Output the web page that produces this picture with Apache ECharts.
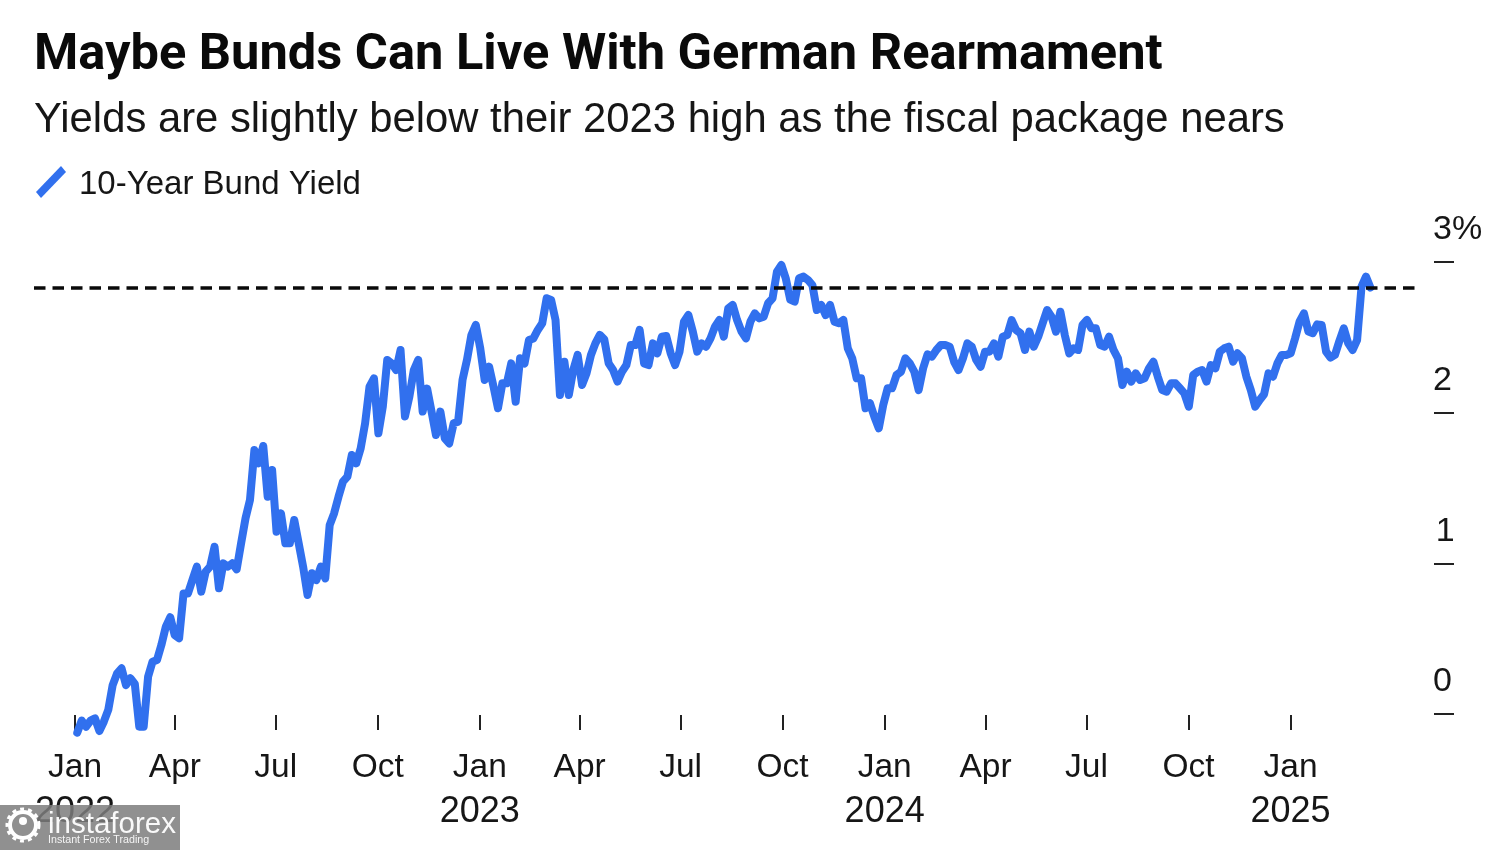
<!DOCTYPE html>
<html>
<head>
<meta charset="utf-8">
<style>html,body{margin:0;padding:0;background:#fff}#c{width:1500px;height:850px}</style>
<script src="https://cdn.jsdelivr.net/npm/echarts@6/dist/echarts.min.js"></script>
</head>
<body>
<div id="c"></div>
<script>
const titleText = 'Maybe Bunds Can Live With German Rearmament';
const subtitleText = 'Yields are slightly below their 2023 high as the fiscal package nears';
const seriesName = '10-Year Bund Yield';
const startDate = [2022, 0, 3];
const sampleStepDays = 3.993;
const yields = [
  -0.124,-0.044,-0.084,-0.044,-0.029,-0.113,-0.051,0.027,0.192,0.27,0.303,0.192,0.237,0.199,-0.084,-0.084,0.248,0.347,0.358,0.458,
  0.58,0.642,0.524,0.502,0.80,0.80,0.889,0.978,0.812,0.945,0.978,1.11,0.834,1.0,0.978,1.0,0.96,1.133,
  1.299,1.42,1.752,1.664,1.779,1.442,1.619,1.21,1.332,1.133,1.133,1.288,1.133,0.978,0.79,0.934,0.889,0.978,0.90,1.254,1.332,1.442,
  1.542,1.575,1.719,1.664,1.763,1.929,2.173,2.228,1.863,2.04,2.35,2.327,2.283,2.416,1.975,2.106,2.283,2.35,
  2.007,2.16,2.007,1.852,2.007,1.83,1.796,1.929,1.94,2.217,2.35,2.515,2.582,2.427,2.217,2.305,2.173,2.029,2.195,2.195,
  2.327,2.073,2.361,2.327,2.482,2.493,2.549,2.593,2.759,2.748,2.615,2.117,2.338,2.117,2.283,2.383,2.184,2.261,2.383,2.46,2.516,
  2.487,2.327,2.283,2.206,2.272,2.316,2.449,2.449,2.549,2.327,2.316,2.46,2.394,2.504,2.509,2.394,2.316,2.405,2.604,2.648,
  2.538,2.405,2.46,2.438,2.493,2.571,2.615,2.504,2.692,2.715,2.615,2.538,2.493,2.604,2.659,2.626,2.637,2.726,2.759,2.936,2.98,2.89,2.75,
  2.737,2.892,2.903,2.881,2.847,2.681,2.715,2.648,2.715,2.604,2.593,2.615,2.427,2.361,2.228,2.228,2.029,2.062,1.973,1.896,
  2.051,2.162,2.162,2.25,2.272,2.361,2.327,2.272,2.15,2.294,2.387,2.372,2.416,2.449,2.449,2.438,2.338,2.283,
  2.361,2.46,2.438,2.35,2.305,2.405,2.405,2.46,2.372,2.504,2.515,2.615,2.549,2.527,2.416,2.538,2.438,2.504,2.593,2.681,
  2.637,2.538,2.67,2.515,2.394,2.427,2.416,2.582,2.615,2.56,2.56,2.449,2.438,2.504,2.416,2.361,2.184,2.272,2.206,2.261,2.217,2.228,2.294,
  2.338,2.239,2.15,2.139,2.195,2.195,2.162,2.128,2.04,2.25,2.272,2.283,2.206,2.316,2.294,2.405,2.427,2.438,2.338,2.394,
  2.361,2.239,2.15,2.04,2.084,2.122,2.261,2.239,2.327,2.383,2.383,2.394,2.493,2.604,2.659,2.538,2.527,2.586,2.582,2.405,
  2.365,2.383,2.476,2.56,2.46,2.416,2.482,2.836,2.903,2.83
];
const referenceLevel = 2.825;
const xTickDates = [[2022,0],[2022,3],[2022,6],[2022,9],[2023,0],[2023,3],[2023,6],[2023,9],[2024,0],[2024,3],[2024,6],[2024,9],[2025,0]];
const xTickMonths = ['Jan','Apr','Jul','Oct','Jan','Apr','Jul','Oct','Jan','Apr','Jul','Oct','Jan'];
const xTickYears = ['2022','','','','2023','','','','2024','','','','2025'];
const yTickValues = [0, 1, 2, 3];
const yTickLabels = ['0', '\u200a1', '2', '3%'];

const FONT = '"Liberation Sans", Arial, Helvetica, sans-serif';
const BLUE = '#3170ee';
const DAY = 86400000;
const t0 = new Date(startDate[0], startDate[1], startDate[2]).getTime();
const seriesData = yields.map((v, i) => [t0 + i * sampleStepDays * DAY, v]);
const xTicks = xTickDates.map(d => new Date(d[0], d[1], 1).getTime());

const chart = echarts.init(document.getElementById('c'), null, {renderer: 'canvas'});
chart.setOption({
  animation: false,
  backgroundColor: '#fff',
  title: [
    {text: titleText, left: 34, top: 31, padding: 0,
     textStyle: {fontFamily: 'Roboto, ' + FONT, fontSize: 50.6, fontWeight: 'bold', color: '#0a0a0a'}},
    {text: subtitleText, left: 34, top: 99, padding: 0,
     textStyle: {fontFamily: FONT, fontSize: 41.8, fontWeight: 'normal', color: '#161616'}}
  ],
  legend: {
    left: 36, top: 166, padding: 0, itemWidth: 30, itemHeight: 32,
    data: [{name: seriesName, icon: 'path://M0,26 L25,0 L30,6 L5,32 Z'}],
    selectedMode: false,
    formatter: name => '{a|' + name + '}',
    textStyle: {
      fontFamily: FONT, fontSize: 33, color: '#161616',
      rich: {a: {fontFamily: FONT, fontSize: 33, color: '#161616', padding: [6, 0, 0, 8]}}
    }
  },
  grid: {left: 34, width: 1383, top: 262, height: 468, containLabel: false},
  xAxis: {
    type: 'value',
    min: new Date(2021, 10, 25).getTime(),
    max: new Date(2025, 3, 25).getTime(),
    axisLine: {show: false, onZero: false},
    splitLine: {show: false},
    axisTick: {show: true, inside: true, length: 15, customValues: xTicks, lineStyle: {color: '#222', width: 2}},
    axisLabel: {
      show: true, customValues: xTicks, margin: 15, hideOverlap: false, verticalAlign: 'top',
      fontFamily: FONT, fontSize: 33.5, color: '#161616',
      formatter: value => {
        const i = xTicks.indexOf(value);
        return '{m|' + xTickMonths[i] + '}' + (xTickYears[i] ? '\n{y|' + xTickYears[i] + '}' : '');
      },
      rich: {
        m: {fontFamily: FONT, fontSize: 33.5, color: '#161616', lineHeight: 45},
        y: {fontFamily: FONT, fontSize: 36, color: '#161616', lineHeight: 45}
      }
    }
  },
  yAxis: {
    type: 'value',
    position: 'right',
    offset: 17,
    min: -0.1062,
    max: 3,
    axisLine: {show: false},
    splitLine: {show: false},
    axisTick: {show: true, length: 20, customValues: yTickValues, lineStyle: {color: '#222', width: 2}},
    axisLabel: {
      show: true, customValues: yTickValues, margin: -1, hideOverlap: false, align: 'left',
      verticalAlign: 'bottom', padding: [0, 0, 15, 0],
      fontFamily: FONT, fontSize: 34, color: '#161616',
      formatter: value => yTickLabels[yTickValues.indexOf(value)]
    }
  },
  series: [{
    name: seriesName,
    type: 'line',
    data: seriesData,
    clip: false,
    showSymbol: false,
    symbol: 'none',
    lineStyle: {color: BLUE, width: 8, cap: 'round', join: 'round'},
    itemStyle: {color: BLUE},
    markLine: {
      silent: true, symbol: 'none', animation: false, z: 5,
      label: {show: false},
      lineStyle: {color: '#0a0a0a', type: [11.5, 7], width: 3.5},
      data: [{yAxis: referenceLevel}]
    }
  }],
  graphic: [
    {type: 'rect', z: 100, shape: {x: 0, y: 805, width: 180, height: 45}, style: {fill: 'rgba(125,125,125,0.85)'}},
    {type: 'circle', z: 101, shape: {cx: 23, cy: 825, r: 13}, style: {fill: 'none', stroke: '#fff', lineWidth: 4}},
    {type: 'circle', z: 101, shape: {cx: 23, cy: 825, r: 16}, style: {fill: 'none', stroke: '#fff', lineWidth: 3, lineDash: [4, 4]}},
    {type: 'circle', z: 101, shape: {cx: 23, cy: 821, r: 4}, style: {fill: '#fff'}},
    {type: 'text', z: 101, style: {x: 48, y: 810, text: 'instaforex', fill: 'rgba(255,255,255,0.95)', font: '29.5px "Liberation Sans"'}},
    {type: 'text', z: 101, style: {x: 48, y: 835, text: 'Instant Forex Trading', fill: 'rgba(255,255,255,0.9)', font: '10.7px "Liberation Sans"'}}
  ]
});
</script>
</body>
</html>
